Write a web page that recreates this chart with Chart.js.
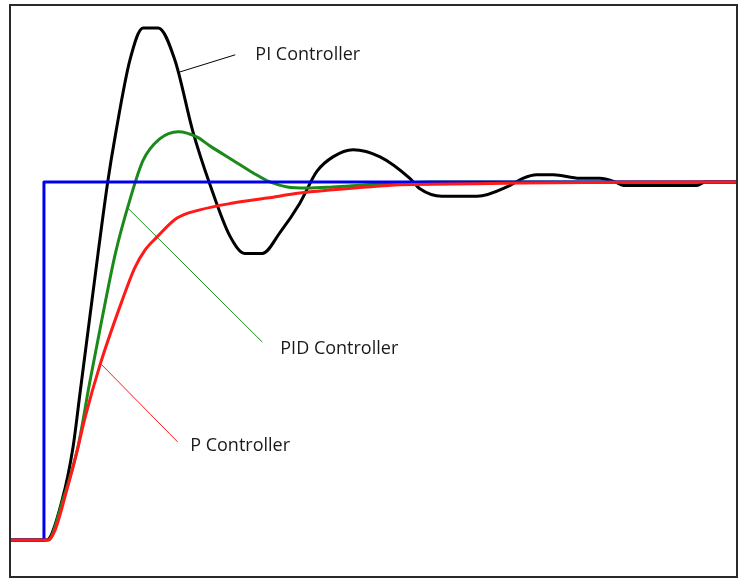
<!DOCTYPE html>
<html lang="en">
<head>
  <meta charset="UTF-8">
  <title>P / PI / PID Controller step response</title>
  <script src="https://cdn.jsdelivr.net/npm/chart.js@4.4.1/dist/chart.umd.min.js"></script>
  <style>
    html, body { margin: 0; padding: 0; background: #fff; }
    #wrap { width: 749px; height: 587px; }
  </style>
</head>
<body>
  <div id="wrap"><canvas id="chart" width="749" height="587"></canvas></div>
  <script>
    // time axis (s) and normalised response (setpoint = 1)
    const xMin = -0.49, xMax = 10.0;
    const yMin = -0.103, yMax = 1.494;

    const stepT = [-0.49, 0, 0, 10];
    const stepY = [0, 0, 1, 1];

    const piT = [-0.49, 0.04, 0.26, 0.42, 0.52, 0.66, 0.78, 0.92, 1.03, 1.24, 1.43, 1.65, 1.89, 2.15, 2.40, 2.68, 2.90, 3.15, 3.41, 3.69, 3.94, 4.17, 4.46, 4.85, 5.28, 5.43, 5.74, 6.25, 6.72, 6.91, 7.11, 7.35, 7.73, 8.02, 8.24, 8.36, 9.42, 9.54, 10.0];
    const piY = [0, 0, 0.11, 0.26, 0.41, 0.62, 0.80, 1.0, 1.13, 1.34, 1.43, 1.43, 1.34, 1.14, 0.99, 0.85, 0.80, 0.80, 0.86, 0.94, 1.03, 1.07, 1.09, 1.07, 1.01, 0.98, 0.96, 0.96, 0.99, 1.01, 1.02, 1.02, 1.01, 1.01, 1.0, 0.99, 0.99, 1.0, 1.0];

    const pidT = [-0.49, 0.06, 0.27, 0.49, 0.66, 0.84, 1.03, 1.24, 1.43, 1.67, 1.94, 2.21, 2.40, 2.73, 3.02, 3.26, 3.51, 3.80, 4.17, 4.66, 5.14, 5.57, 10.0];
    const pidY = [0, 0, 0.11, 0.26, 0.44, 0.62, 0.80, 0.95, 1.06, 1.12, 1.14, 1.125, 1.10, 1.06, 1.025, 1.0, 0.986, 0.983, 0.986, 0.992, 0.997, 1.0, 1.0];

    const pT = [-0.49, 0.06, 0.16, 0.33, 0.48, 0.59, 0.81, 1.13, 1.31, 1.46, 1.63, 1.92, 2.25, 2.73, 3.22, 3.69, 4.17, 4.66, 5.14, 5.86, 6.87, 8.31, 10.0];
    const pY = [0, 0, 0.028, 0.14, 0.25, 0.34, 0.49, 0.67, 0.76, 0.81, 0.846, 0.899, 0.922, 0.941, 0.955, 0.969, 0.978, 0.986, 0.992, 0.994, 0.997, 0.999, 1.0];

    // annotation labels and their leader lines
    const labelNames = ['PI Controller', 'PID Controller', 'P Controller'];
    const labelColors = ['#000000', '#1a8a1a', '#ff1a1a'];
    const leaderStartT = [1.96, 1.21, 0.81];
    const leaderStartY = [1.307, 0.927, 0.494];
    const leaderEndT = [2.76, 3.15, 1.93];
    const leaderEndY = [1.355, 0.553, 0.274];
    const labelT = [3.05, 3.41, 2.11];
    const labelY = [1.355, 0.534, 0.263];

    function pts(xs, ys) {
      return xs.map((x, i) => ({ x: x, y: ys[i] }));
    }

    function curve(xs, ys, color) {
      return {
        data: pts(xs, ys),
        borderColor: color,
        borderWidth: 3,
        pointRadius: 0,
        showLine: true,
        fill: false,
        cubicInterpolationMode: 'monotone',
        borderJoinStyle: 'round'
      };
    }

    const leaders = labelNames.map((name, i) => ({
      data: [{ x: leaderStartT[i], y: leaderStartY[i] }, { x: leaderEndT[i], y: leaderEndY[i] }],
      borderColor: labelColors[i],
      borderWidth: 1,
      pointRadius: 0,
      showLine: true,
      fill: false
    }));

    // frame round the plot
    const framePlugin = {
      id: 'frame',
      afterDraw(chart) {
        const { ctx, chartArea: a } = chart;
        ctx.save();
        ctx.strokeStyle = '#2a2a2a';
        ctx.lineWidth = 2;
        ctx.strokeRect(a.left, a.top, a.right - a.left, a.bottom - a.top);
        ctx.restore();
      }
    };

    // text labels next to the leader lines
    const labelPlugin = {
      id: 'labels',
      afterDatasetsDraw(chart) {
        const { ctx, scales } = chart;
        ctx.save();
        ctx.font = '18px "Open Sans", sans-serif';
        ctx.fillStyle = '#1a1a1a';
        ctx.textAlign = 'left';
        ctx.textBaseline = 'middle';
        labelNames.forEach((name, i) => {
          ctx.fillText(name, scales.x.getPixelForValue(labelT[i]), scales.y.getPixelForValue(labelY[i]));
        });
        ctx.restore();
      }
    };

    new Chart(document.getElementById('chart'), {
      type: 'scatter',
      data: {
        datasets: [
          curve(pT, pY, '#ff1a1a'),
          curve(stepT, stepY, '#0000ee'),
          curve(pidT, pidY, '#1a8a1a'),
          curve(piT, piY, '#000000'),
          ...leaders
        ]
      },
      options: {
        responsive: false,
        animation: false,
        layout: { padding: { left: 10, top: 5, right: 12, bottom: 10 } },
        scales: {
          x: { type: 'linear', min: xMin, max: xMax, display: false },
          y: { type: 'linear', min: yMin, max: yMax, display: false }
        },
        plugins: {
          legend: { display: false },
          tooltip: { enabled: false }
        }
      },
      plugins: [framePlugin, labelPlugin]
    });
  </script>
</body>
</html>
